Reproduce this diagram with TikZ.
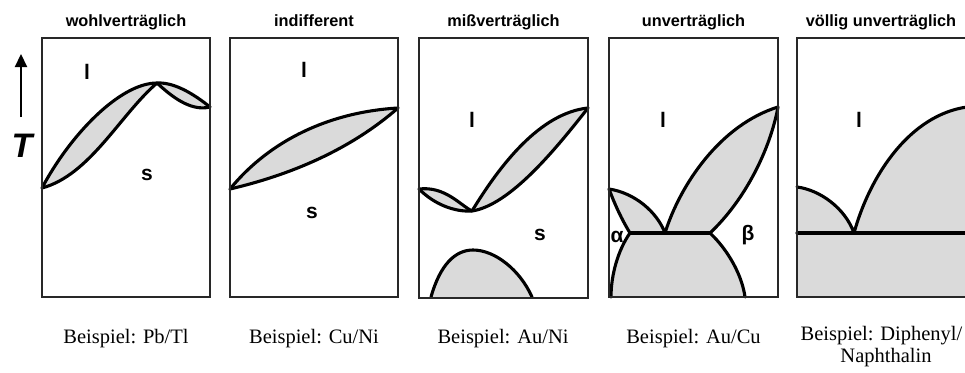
\documentclass[tikz,border=0pt]{standalone}
\usepackage{fontspec}
\setmainfont{Liberation Serif}
\setsansfont{Liberation Sans}
\usetikzlibrary{arrows.meta}
\definecolor{phasegray}{RGB}{218,218,218}
\definecolor{framegray}{RGB}{40,40,40}
\begin{document}
\begin{tikzpicture}[x=1pt,y=-1pt,
  frame/.style={draw=framegray,line width=1.9pt},
  curve/.style={draw=black,line width=3.1pt,line join=round,line cap=round},
  title/.style={font=\sffamily\bfseries\fontsize{16.3}{18}\selectfont,anchor=base,inner sep=0pt},
  phase/.style={font=\sffamily\bfseries\fontsize{21}{24}\selectfont,inner sep=0pt},
  example/.style={font=\fontsize{20.5}{22}\selectfont,anchor=base,inner sep=0pt},
]
\useasboundingbox (0,0) rectangle (965,372);

% ---------- titles ----------
\node[title] (t1) at (126,26) {wohlverträglich};
\node[title] (t2) at (314,26) {indifferent};
\node[title] (t3) at (503.5,26) {mißverträglich};
\node[title] (t4) at (693.5,26) {unverträglich};
\node[title] (t5) at (881,26) {völlig unverträglich};

% ---------- T axis ----------
\coordinate (tbot) at (21,117);
\coordinate (ttop) at (21,54);
\draw[line width=2.2pt,-{Triangle[length=13pt,width=12pt]}] (tbot) -- (ttop);
\node[font=\sffamily\bfseries\itshape\fontsize{34}{36}\selectfont,inner sep=0pt] (T) at (22,146) {T};

% ---------- box 1 ----------
\fill[phasegray] (42,188) .. controls (70,135) and (120,83) .. (157,83)
   .. controls (120,115) and (90,175) .. (42,188) -- cycle;
\fill[phasegray] (157,83) .. controls (175,82) and (195,95) .. (210,107)
   .. controls (190,112) and (170,95) .. (157,83) -- cycle;
\draw[curve] (42,188) .. controls (70,135) and (120,83) .. (157,83)
   .. controls (175,82) and (195,95) .. (210,107);
\draw[curve] (42,188) .. controls (90,175) and (120,115) .. (157,83)
   .. controls (170,95) and (190,112) .. (210,107);
\draw[frame] (42,38) rectangle (210,297);
\node[phase] (l1) at (87,72) {l};
\node[phase] (s1) at (147,175) {s};

% ---------- box 2 ----------
\fill[phasegray] (230,189) .. controls (270,140) and (330,112) .. (398,108)
   .. controls (350,150) and (290,175) .. (230,189) -- cycle;
\draw[curve] (230,189) .. controls (270,140) and (330,112) .. (398,108);
\draw[curve] (230,189) .. controls (290,175) and (350,150) .. (398,108);
\draw[frame] (230,38) rectangle (398,297);
\node[phase] (l2) at (304,70) {l};
\node[phase] (s2) at (312,213) {s};

% ---------- box 3 ----------
\fill[phasegray] (419,189) .. controls (445,186) and (460,205) .. (472,211)
   .. controls (455,212) and (435,205) .. (419,189) -- cycle;
\fill[phasegray] (472,211) .. controls (500,165) and (540,113) .. (588,108)
   .. controls (555,150) and (510,205) .. (472,211) -- cycle;
\fill[phasegray] (431,297) .. controls (440,265) and (455,250) .. (473,250)
   .. controls (495,250) and (520,270) .. (532,297) -- cycle;
\draw[curve] (419,189) .. controls (445,186) and (460,205) .. (472,211)
   .. controls (500,165) and (540,113) .. (588,108);
\draw[curve] (419,189) .. controls (435,205) and (455,212) .. (472,211)
   .. controls (510,205) and (555,150) .. (588,108);
\draw[curve] (431,297) .. controls (440,265) and (455,250) .. (473,250)
   .. controls (495,250) and (520,270) .. (532,297);
\draw[frame] (419,38) rectangle (588,298);
\node[phase] (l3) at (472,120) {l};
\node[phase] (s3) at (540,235) {s};

% ---------- box 4 ----------
\fill[phasegray] (609,189) .. controls (635,193) and (657,212) .. (665,233)
   .. controls (680,185) and (720,125) .. (778,107)
   .. controls (770,150) and (745,200) .. (710,233)
   .. controls (728,250) and (742,275) .. (745,297)
   -- (611,297)
   .. controls (611,275) and (618,250) .. (630,233)
   .. controls (622,220) and (615,205) .. (609,189) -- cycle;
\draw[curve] (609,189) .. controls (635,193) and (657,212) .. (665,233);
\draw[curve] (665,233) .. controls (680,185) and (720,125) .. (778,107);
\draw[curve] (609,189) .. controls (615,205) and (622,220) .. (630,233)
   .. controls (618,250) and (611,275) .. (611,297);
\draw[curve] (778,107) .. controls (770,150) and (745,200) .. (710,233)
   .. controls (728,250) and (742,275) .. (745,297);
\draw[curve] (630,233) -- (710,233);
\draw[frame] (609,38) rectangle (778,297);
\node[phase] (l4) at (663,120) {l};
\node[phase] (a4) at (617,237) {α};
\node[phase] (b4) at (748,235) {β};

% ---------- box 5 ----------
\fill[phasegray] (797,187) .. controls (820,190) and (845,208) .. (854,233)
   .. controls (870,175) and (910,115) .. (967,107)
   -- (967,297) -- (797,297) -- cycle;
\draw[curve] (797,187) .. controls (820,190) and (845,208) .. (854,233)
   .. controls (870,175) and (910,115) .. (967,107);
\draw[curve] (797,233) -- (967,233);
\draw[frame] (797,38) rectangle (968,297);
\node[phase] (l5) at (859,120) {l};

% ---------- examples ----------
\node[example] (e1) at (126,343) {Beispiel: Pb/Tl};
\node[example] (e2) at (314,343) {Beispiel: Cu/Ni};
\node[example] (e3) at (503,343) {Beispiel: Au/Ni};
\node[example] (e4) at (693.5,343) {Beispiel: Au/Cu};
\node[example] (e5) at (881.5,340) {Beispiel: Diphenyl/};
\node[example] (e6) at (886,362) {Naphthalin};
\end{tikzpicture}
\end{document}
